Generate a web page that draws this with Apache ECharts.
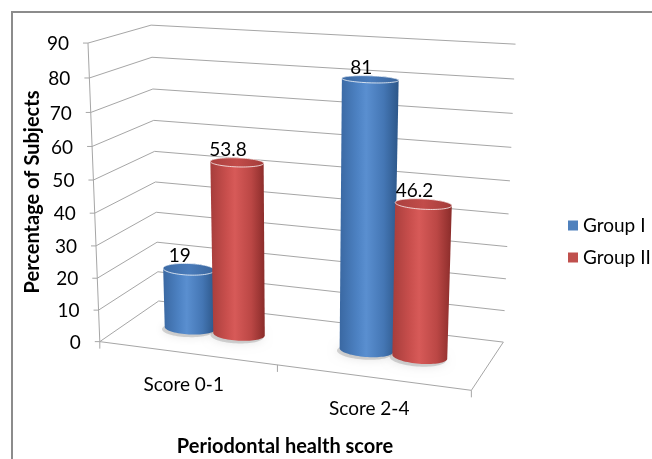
<!DOCTYPE html>
<html>
<head>
<meta charset="utf-8">
<script src="https://cdn.jsdelivr.net/npm/echarts@6/dist/echarts.min.js"></script>
<style>
  html, body { margin: 0; padding: 0; background: #fff; }
  #chart { width: 652px; height: 459px; }
</style>
</head>
<body>
<div id="chart"></div>
<script>
// ---- data ----
const categories = ['Score 0-1', 'Score 2-4'];
const groupNames = ['Group I', 'Group II'];
const groupI = [19, 81];
const groupII = [53.8, 46.2];
const valueTicks = [0, 10, 20, 30, 40, 50, 60, 70, 80, 90];
const valueMax = 90;

// ---- 3D box layout ----
// Screen anchors of the plot box: [u, valueFraction, w, x, y]
// u runs left -> right along the floor, w runs front -> back.
const boxAnchors = [
  [0, 1, 0, 87, 43], [0, 5 / 9, 0, 94, 181], [0, 0, 0, 100, 340],
  [0, 1, 1, 152, 25], [0, 8 / 9, 1, 152, 57], [0, 6 / 9, 1, 154, 120],
  [0, 4 / 9, 1, 156, 182], [0, 3 / 9, 1, 156, 213], [0, 2 / 9, 1, 156, 242],
  [1, 1, 1, 515, 44], [1, 5 / 9, 1, 510, 181], [1, 1 / 9, 1, 505, 311], [1, 0, 1, 503, 342],
  [1, 0, 0, 472, 389], [0.5, 0, 0, 277, 367]
];

const FONT = 'Lato, "Open Sans", "Liberation Sans", sans-serif';
const GRID_COLOR = '#a6a6a6';

// Least-squares fit of a 3D -> 2D projective transform (11 parameters).
function fitProjection(anchors) {
  const n = 11, S = 0.01;
  const M = Array.from({ length: n }, () => new Array(n + 1).fill(0));
  const addRow = (r, b) => {
    for (let i = 0; i < n; i++) {
      for (let j = 0; j < n; j++) M[i][j] += r[i] * r[j];
      M[i][n] += r[i] * b;
    }
  };
  anchors.forEach(([u, v, w, x, y]) => {
    x *= S; y *= S;
    addRow([u, v, w, 1, 0, 0, 0, 0, -x * u, -x * v, -x * w], x);
    addRow([0, 0, 0, 0, u, v, w, 1, -y * u, -y * v, -y * w], y);
  });
  for (let c = 0; c < n; c++) {
    let piv = c;
    for (let r = c + 1; r < n; r++) if (Math.abs(M[r][c]) > Math.abs(M[piv][c])) piv = r;
    [M[c], M[piv]] = [M[piv], M[c]];
    for (let r = 0; r < n; r++) {
      if (r === c) continue;
      const f = M[r][c] / M[c][c];
      for (let k = c; k <= n; k++) M[r][k] -= f * M[c][k];
    }
  }
  const p = M.map((row, i) => row[n] / row[i]);
  return (u, v, w) => {
    const d = p[8] * u + p[9] * v + p[10] * w + 1;
    return [(p[0] * u + p[1] * v + p[2] * w + p[3]) / d / S,
            (p[4] * u + p[5] * v + p[6] * w + p[7]) / d / S];
  };
}
const project = fitProjection(boxAnchors);

// Grid-pixel -> normalised box coordinates
function uOf(cs, px) { return (px - cs.x) / cs.width; }
function vOf(cs, py) { return (cs.y + cs.height - py) / cs.height; }

function convexHull(pts) {
  const p = pts.slice().sort((a, b) => a[0] - b[0] || a[1] - b[1]);
  const cross = (o, a, b) => (a[0] - o[0]) * (b[1] - o[1]) - (a[1] - o[1]) * (b[0] - o[0]);
  const lower = [], upper = [];
  for (const q of p) {
    while (lower.length >= 2 && cross(lower[lower.length - 2], lower[lower.length - 1], q) <= 0) lower.pop();
    lower.push(q);
  }
  for (let i = p.length - 1; i >= 0; i--) {
    const q = p[i];
    while (upper.length >= 2 && cross(upper[upper.length - 2], upper[upper.length - 1], q) <= 0) upper.pop();
    upper.push(q);
  }
  upper.pop(); lower.pop();
  return lower.concat(upper);
}

function line(a, b, color, width) {
  return { type: 'line', shape: { x1: a[0], y1: a[1], x2: b[0], y2: b[1] },
           style: { stroke: color || GRID_COLOR, lineWidth: width || 1 } };
}

// Walls, floor, ticks and axis labels
function renderFrame(params, api) {
  const cs = params.coordSys;
  const ch = [];
  valueTicks.forEach((t) => {
    const vn = vOf(cs, api.coord([0, t])[1]);
    const fl = project(0, vn, 0), bl = project(0, vn, 1), br = project(1, vn, 1);
    ch.push(line(fl, bl), line(bl, br), line([fl[0] - 5, fl[1]], fl));
    ch.push({ type: 'text', x: fl[0] - 19, y: fl[1] + 1,
      style: { text: String(t), fill: '#000', font: '19px ' + FONT, align: 'right', verticalAlign: 'middle' } });
  });
  const v0 = vOf(cs, api.coord([0, 0])[1]);
  const vTop = vOf(cs, api.coord([0, valueMax])[1]);
  ch.push(line(project(0, v0, 0), project(0, vTop, 0)));
  ch.push(line(project(0, v0, 0), project(1, v0, 0)));
  ch.push(line(project(1, v0, 0), project(1, v0, 1)));
  [0, 0.5, 1].forEach((u) => {
    const p = project(u, v0, 0);
    ch.push(line(p, [p[0], p[1] + 7]));
  });
  categories.forEach((c, i) => {
    const uc = uOf(cs, api.coord([i, 0])[0]);
    const p = project(uc, v0, 0);
    ch.push({ type: 'text', x: p[0] - 3, y: p[1] + 32,
      style: { text: c, fill: '#000', font: '19px ' + FONT, align: 'center', verticalAlign: 'middle' } });
  });
  return { type: 'group', children: ch };
}

const DEPTH_CENTER = 0.5;
const DEPTH_RADIUS = 0.14;
const BAR_SHARE = 2 / 7; // cylinder diameter as a share of the category band

function cylinderSeries(name, values, side, color, bodyStops, topStops) {
  return {
    name, type: 'custom', coordinateSystem: 'cartesian2d',
    itemStyle: { color },
    data: values.map((v, i) => [i, v]),
    renderItem(params, api) {
      const cs = params.coordSys;
      const ci = api.value(0), val = api.value(1);
      const band = api.size([1, 0])[0] / cs.width;
      const d = band * BAR_SHARE;
      const uc = uOf(cs, api.coord([ci, 0])[0]) + side * d / 2;
      const v0 = vOf(cs, api.coord([ci, 0])[1]);
      const v1 = vOf(cs, api.coord([ci, val])[1]);
      const ring = (vn, su, sw) => {
        const pts = [];
        for (let k = 0; k < 72; k++) {
          const a = (k / 72) * Math.PI * 2;
          pts.push(project(uc + (d / 2) * su * Math.cos(a), vn, DEPTH_CENTER + DEPTH_RADIUS * sw * Math.sin(a)));
        }
        return pts;
      };
      const bottom = ring(v0, 1, 1), top = ring(v1, 1, 1);
      const shadow = ring(v0, 1.02, 1.1).map((p) => [p[0] - 2, p[1] + 2]);
      const body = convexHull(bottom.concat(top));
      const grad = (stops) => ({ type: 'linear', x: 0, y: 0, x2: 1, y2: 0, global: false,
        colorStops: stops.map(([o, c]) => ({ offset: o, color: c })) });
      let minY = Infinity, cx = 0;
      top.forEach((p) => { minY = Math.min(minY, p[1]); cx += p[0]; });
      cx /= top.length;
      return {
        type: 'group',
        children: [
          { type: 'polygon', shape: { points: shadow },
            style: { fill: 'rgba(110,110,110,0.28)', shadowBlur: 10, shadowColor: 'rgba(0,0,0,0.35)' } },
          { type: 'polygon', shape: { points: body }, style: { fill: grad(bodyStops) } },
          { type: 'polygon', shape: { points: top },
            style: { fill: grad(topStops), stroke: 'rgba(255,255,255,0.75)', lineWidth: 1 } },
          { type: 'text', x: cx - 9, y: minY - 8,
            style: { text: String(val), fill: '#000', font: '19px ' + FONT, align: 'center', verticalAlign: 'middle' } }
        ]
      };
    }
  };
}

const chart = echarts.init(document.getElementById('chart'), null, { renderer: 'canvas' });
chart.setOption({
  backgroundColor: '#fff',
  animation: false,
  grid: { left: 100, top: 40, width: 372, height: 300 },
  xAxis: { type: 'category', data: categories, show: false },
  yAxis: { type: 'value', min: 0, max: valueMax, interval: 10, show: false },
  legend: {
    orient: 'vertical', left: 563, top: 211, itemWidth: 10, itemHeight: 10, itemGap: 13,
    icon: 'rect', data: groupNames, selectedMode: false,
    textStyle: { fontFamily: FONT, fontSize: 19, color: '#000' }
  },
  graphic: [
    { type: 'rect', shape: { x: 12, y: 12, width: 700, height: 500 },
      style: { fill: 'none', stroke: '#8c8c8c', lineWidth: 2 }, silent: true },
    { type: 'text', x: 33, y: 192, rotation: Math.PI / 2,
      style: { text: 'Percentage of Subjects', fill: '#000', font: 'bold 20px ' + FONT, align: 'center', verticalAlign: 'middle' } },
    { type: 'text', x: 285, y: 447,
      style: { text: 'Periodontal health score', fill: '#000', font: 'bold 20px ' + FONT, align: 'center', verticalAlign: 'middle' } }
  ],
  series: [
    { type: 'custom', coordinateSystem: 'cartesian2d', data: [[0, 0]], renderItem: renderFrame, silent: true, z: 1 },
    cylinderSeries(groupNames[0], groupI, -1, '#4F81BD',
      [[0, '#3a68a2'], [0.3, '#4d82c3'], [0.45, '#5a8fd0'], [0.75, '#4476b4'], [1, '#2c5688']],
      [[0, '#3c6aa4'], [0.5, '#4a7cbb'], [1, '#3a659c']]),
    cylinderSeries(groupNames[1], groupII, 1, '#C0504D',
      [[0, '#a63d3b'], [0.3, '#c94f4d'], [0.45, '#d75a58'], [0.75, '#bb4745'], [1, '#8a2c2a']],
      [[0, '#a9403e'], [0.5, '#c24c4a'], [1, '#a23c3a']])
  ]
});
</script>
</body>
</html>
